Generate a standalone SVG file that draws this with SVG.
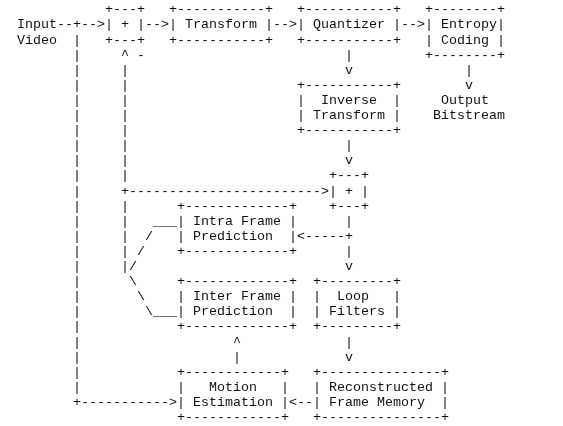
<svg xmlns="http://www.w3.org/2000/svg" width="563" height="426" viewBox="0 0 563 426" xml:space="preserve">
<style>
text{font-family:"Liberation Mono","Courier New",monospace;font-size:13.333px;fill:#111;white-space:pre}
</style>
<defs>
<filter id="gray" filterUnits="userSpaceOnUse" x="0" y="0" width="563" height="426">
<feColorMatrix type="saturate" values="0"/>
</filter>
</defs>
<rect width="563" height="426" fill="#fff"/>
<g id="diagram" filter="url(#gray)">
<g id="input-video">
<text x="17" y="28.4">Input</text>
<text x="17" y="43.5">Video</text>
</g>
<g id="adder-1">
<text x="105" y="13.3">+---+</text>
<text x="105" y="28.4">| + |</text>
<text x="105" y="43.5">+---+</text>
</g>
<g id="transform">
<text x="169" y="13.3">+-----------+</text>
<text x="169" y="28.4">| Transform |</text>
<text x="169" y="43.5">+-----------+</text>
</g>
<g id="quantizer">
<text x="297" y="13.3">+-----------+</text>
<text x="297" y="28.4">| Quantizer |</text>
<text x="297" y="43.5">+-----------+</text>
</g>
<g id="entropy-coding">
<text x="425" y="13.3">+--------+</text>
<text x="425" y="28.4">| Entropy|</text>
<text x="425" y="43.5">| Coding |</text>
<text x="425" y="58.6">+--------+</text>
</g>
<g id="output-bitstream">
<text x="441" y="103.9">Output</text>
<text x="433" y="119.0">Bitstream</text>
</g>
<g id="inverse-transform">
<text x="297" y="88.8">+-----------+</text>
<text x="297" y="103.9">|  Inverse  |</text>
<text x="297" y="119.0">| Transform |</text>
<text x="297" y="134.1">+-----------+</text>
</g>
<g id="adder-2">
<text x="329" y="179.4">+---+</text>
<text x="329" y="194.5">| + |</text>
<text x="329" y="209.6">+---+</text>
</g>
<g id="intra-prediction">
<text x="177" y="209.6">+-------------+</text>
<text x="177" y="224.7">| Intra Frame |</text>
<text x="177" y="239.8">| Prediction  |</text>
<text x="177" y="254.9">+-------------+</text>
</g>
<g id="inter-prediction">
<text x="177" y="285.1">+-------------+</text>
<text x="177" y="300.2">| Inter Frame |</text>
<text x="177" y="315.3">| Prediction  |</text>
<text x="177" y="330.4">+-------------+</text>
</g>
<g id="loop-filters">
<text x="313" y="285.1">+---------+</text>
<text x="313" y="300.2">|  Loop   |</text>
<text x="313" y="315.3">| Filters |</text>
<text x="313" y="330.4">+---------+</text>
</g>
<g id="motion-estimation">
<text x="177" y="375.7">+------------+</text>
<text x="177" y="390.8">|   Motion   |</text>
<text x="177" y="405.9">| Estimation |</text>
<text x="177" y="421.0">+------------+</text>
</g>
<g id="frame-memory">
<text x="313" y="375.7">+---------------+</text>
<text x="313" y="390.8">| Reconstructed |</text>
<text x="313" y="405.9">| Frame Memory  |</text>
<text x="313" y="421.0">+---------------+</text>
</g>
<g id="connectors">
<text x="57" y="28.4">--+--></text>
<text x="145" y="28.4">--></text>
<text x="273" y="28.4">--></text>
<text x="401" y="28.4">--></text>
<text x="73" y="43.5">|</text>
<text x="73" y="58.6">|     ^ -</text>
<text x="345" y="58.6">|</text>
<text x="73" y="73.7">|     |</text>
<text x="345" y="73.7">v</text>
<text x="465" y="73.7">|</text>
<text x="73" y="88.8">|     |</text>
<text x="465" y="88.8">v</text>
<text x="73" y="103.9">|     |</text>
<text x="73" y="119.0">|     |</text>
<text x="73" y="134.1">|     |</text>
<text x="73" y="149.2">|     |</text>
<text x="345" y="149.2">|</text>
<text x="73" y="164.3">|     |</text>
<text x="345" y="164.3">v</text>
<text x="73" y="179.4">|     |</text>
<text x="73" y="194.5">|     +------------------------></text>
<text x="73" y="209.6">|     |</text>
<text x="73" y="224.7">|     |   ___</text>
<text x="345" y="224.7">|</text>
<text x="73" y="239.8">|     |  /</text>
<text x="297" y="239.8">&lt;-----+</text>
<text x="73" y="254.9">|     | /</text>
<text x="345" y="254.9">|</text>
<text x="73" y="270.0">|     |/</text>
<text x="345" y="270.0">v</text>
<text x="73" y="285.1">|      \</text>
<text x="73" y="300.2">|       \</text>
<text x="73" y="315.3">|        \___</text>
<text x="73" y="330.4">|</text>
<text x="73" y="345.5">|</text>
<text x="233" y="345.5">^</text>
<text x="345" y="345.5">|</text>
<text x="73" y="360.6">|</text>
<text x="233" y="360.6">|</text>
<text x="345" y="360.6">v</text>
<text x="73" y="375.7">|</text>
<text x="73" y="390.8">|</text>
<text x="73" y="405.9">+-----------></text>
<text x="289" y="405.9">&lt;--</text>
</g>
</g>
</svg>
